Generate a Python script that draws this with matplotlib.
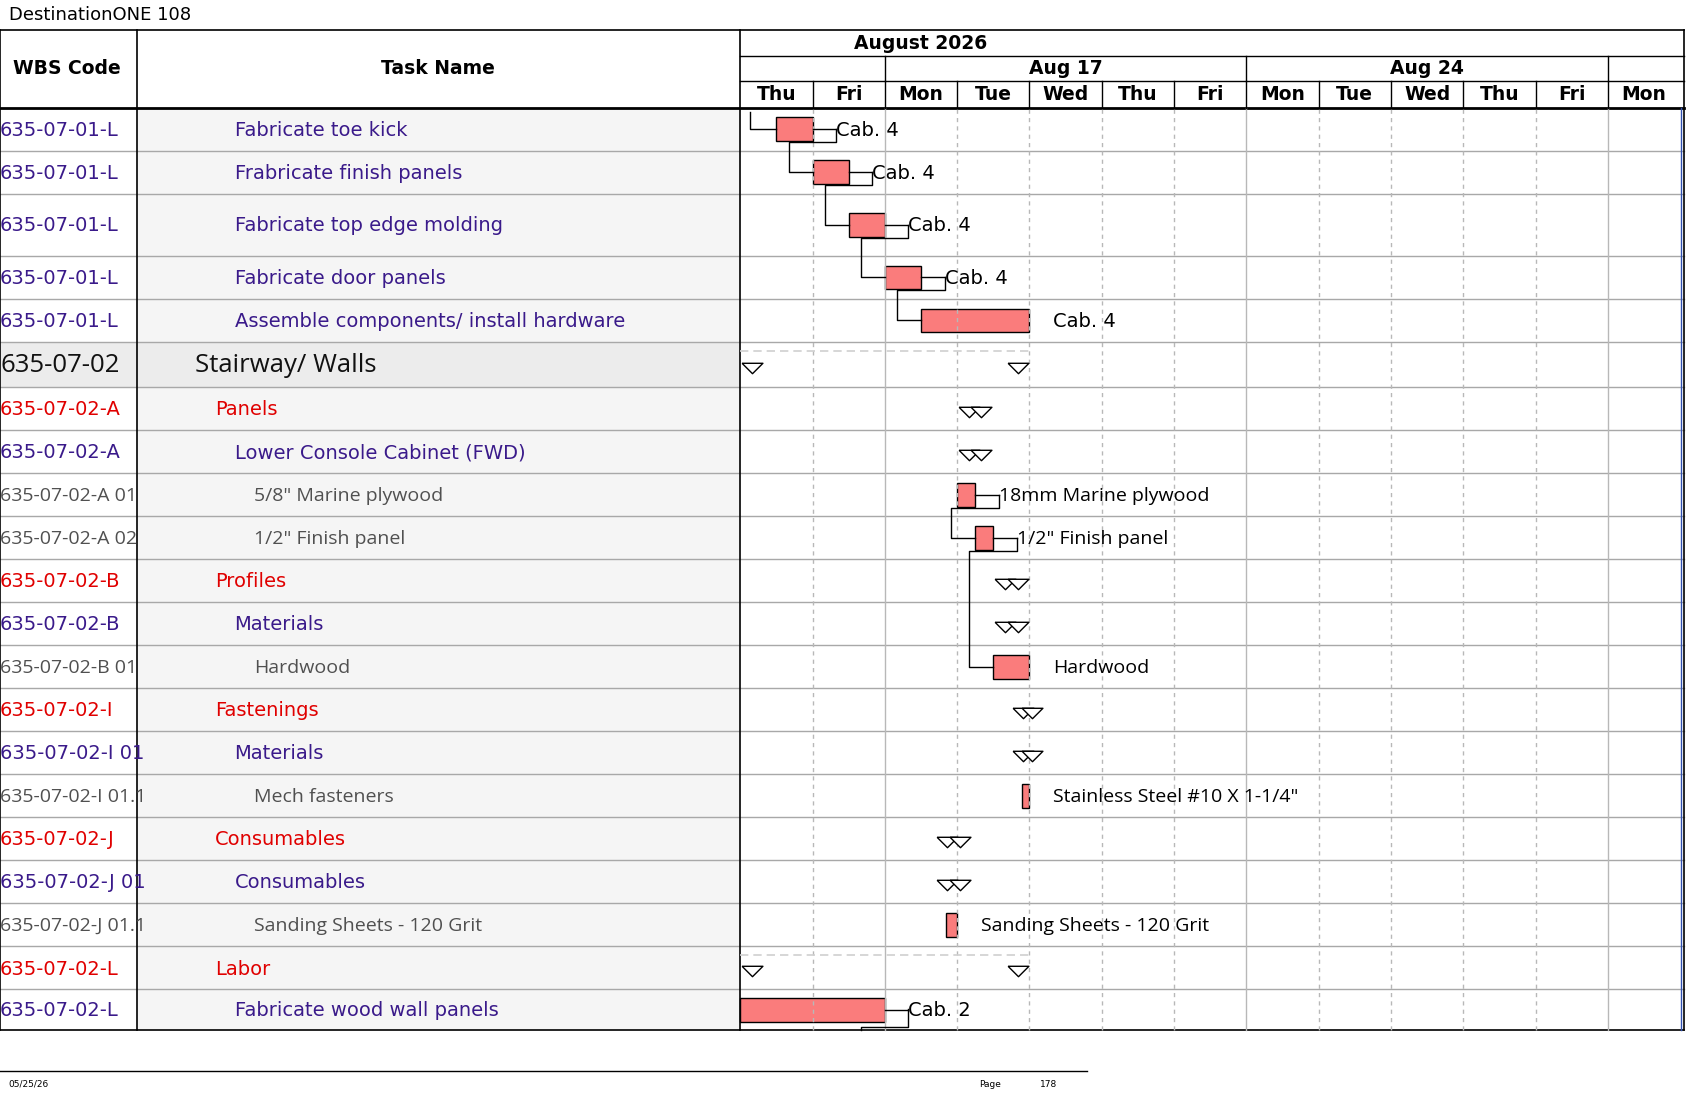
import matplotlib.pyplot as plt
from matplotlib.patches import Rectangle

# Gantt page: DestinationONE 108
#*******************************

W, H = 1568, 1020          # page drawn in display units
X0, DAYW = 688, 67.2       # left of time scale, width of one day column

day_names = ["Thu", "Fri", "Mon", "Tue", "Wed", "Thu", "Fri",
             "Mon", "Tue", "Wed", "Thu", "Fri", "Mon"]
week_labels = ["", "Aug 17", "Aug 24", ""]
week_bounds = [0, 2, 7, 12, 13]

row_edges = [100, 140, 180, 238, 278, 318, 360, 400, 440, 480, 520, 560,
             600, 640, 680, 720, 760, 800, 840, 880, 920, 958]

wbs = ["635-07-01-L", "635-07-01-L", "635-07-01-L", "635-07-01-L", "635-07-01-L",
       "635-07-02", "635-07-02-A", "635-07-02-A", "635-07-02-A 01", "635-07-02-A 02",
       "635-07-02-B", "635-07-02-B", "635-07-02-B 01", "635-07-02-I", "635-07-02-I 01",
       "635-07-02-I 01.1", "635-07-02-J", "635-07-02-J 01", "635-07-02-J 01.1",
       "635-07-02-L", "635-07-02-L"]
names = ["Fabricate toe kick", "Frabricate finish panels", "Fabricate top edge molding",
         "Fabricate door panels", "Assemble components/ install hardware",
         "Stairway/ Walls", "Panels", "Lower Console Cabinet (FWD)",
         "5/8\" Marine plywood", "1/2\" Finish panel", "Profiles", "Materials",
         "Hardwood", "Fastenings", "Materials", "Mech fasteners", "Consumables",
         "Consumables", "Sanding Sheets - 120 Grit", "Labor", "Fabricate wood wall panels"]
# t = task, s = red summary, g = grey item, h = heading
kinds = ["t", "t", "t", "t", "t", "h", "s", "t", "g", "g", "s", "t", "g",
         "s", "t", "g", "s", "t", "g", "s", "t"]

# bars: row -> (start day, end day, label)
bars = {0: (0.5, 1.0, "Cab. 4"), 1: (1.0, 1.5, "Cab. 4"), 2: (1.5, 2.0, "Cab. 4"),
        3: (2.0, 2.5, "Cab. 4"), 4: (2.5, 4.0, "Cab. 4"),
        8: (3.0, 3.25, "18mm Marine plywood"), 9: (3.25, 3.5, "1/2\" Finish panel"),
        12: (3.5, 4.0, "Hardwood"), 15: (3.9, 4.0, "Stainless Steel #10 X 1-1/4\""),
        18: (2.85, 3.0, "Sanding Sheets - 120 Grit"), 20: (0.0, 2.0, "Cab. 2")}
# summaries: row -> (start day, end day)
summaries = {5: (0.0, 4.0), 6: (3.0, 3.5), 7: (3.0, 3.5), 10: (3.5, 4.0),
             11: (3.5, 4.0), 13: (3.75, 4.2), 14: (3.75, 4.2), 16: (2.7, 3.2),
             17: (2.7, 3.2), 19: (0.0, 4.0)}
# links between bars (predecessor row, successor row)
links = [(0, 1), (1, 2), (2, 3), (3, 4), (8, 9), (9, 12)]

fig = plt.figure(figsize=(16.87, 10.97), dpi=100)
ax = fig.add_axes([0, 0, 1, 1])
ax.set_xlim(0, W)
ax.set_ylim(H, 0)
ax.axis("off")

# time-scale axes: x in days
gx = fig.add_axes([0, 0, 1, 1])
gx.set_xlim(-X0 / DAYW, (W - X0) / DAYW)
gx.set_ylim(H, 0)
gx.axis("off")

ax.text(8, 14, "DestinationONE 108", fontsize=13, va="center", family="DejaVu Sans")

# column backgrounds
top, bot = row_edges[0], row_edges[-1]
ax.add_patch(Rectangle((127, top), X0 - 127, bot - top, fc="#f5f5f5", ec="none"))
ax.add_patch(Rectangle((0, row_edges[5]), X0, row_edges[6] - row_edges[5], fc="#ececec", ec="none"))

# horizontal grid
for y in row_edges[1:-1]:
    ax.plot([0, 1565], [y, y], color="#a8a8a8", lw=1)

# day grid
for d in range(1, 13):
    solid = d in week_bounds
    gx.axvline(d, ymin=1 - bot / H, ymax=1 - top / H, color="#b8b8b8",
               lw=1, ls="-" if solid else (0, (3, 3)))

# header
ax.plot([0, 1565], [28, 28], color="k", lw=1.2)
ax.plot([0, 1565], [top, top], color="k", lw=2)
ax.plot([0, 1565], [bot, bot], color="k", lw=1.2)
for x in [0, 127, X0]:
    ax.plot([x, x], [28, bot], color="k", lw=1.2)
ax.plot([1565, 1565], [28, bot], color="k", lw=1.2)
ax.plot([1562, 1562], [top, bot], color="#3050b0", lw=1)
ax.text(62, 64, "WBS Code", fontsize=13.5, weight="bold", ha="center", va="center")
ax.text(407, 64, "Task Name", fontsize=13.5, weight="bold", ha="center", va="center")
ax.plot([X0, 1565], [52, 52], color="k", lw=1)
ax.plot([X0, 1565], [75, 75], color="k", lw=1)
gx.text(2.5, 40, "August 2026", fontsize=13.5, weight="bold", ha="center", va="center")
for i, lab in enumerate(week_labels):
    a, b = week_bounds[i], week_bounds[i + 1]
    if a > 0:
        gx.plot([a, a], [52, 75], color="k", lw=1)
    gx.text((a + b) / 2, 64, lab, fontsize=13.5, weight="bold", ha="center", va="center")
for d, lab in enumerate(day_names):
    if d > 0:
        gx.plot([d, d], [75, top], color="k", lw=1)
    gx.text(d + 0.5, 88, lab, fontsize=13.5, weight="bold", ha="center", va="center")

# rows
styles = {"t": ("#3a1a8a", 218, "DejaVu Sans", 14),
          "s": ("#e00000", 200, "DejaVu Sans", 14),
          "g": ("#505050", 236, "Open Sans", 14),
          "h": ("#111111", 181, "Open Sans", 18.5)}
wclip = Rectangle((0, top), 127, bot - top, transform=ax.transData)
for i, (code, name, kind) in enumerate(zip(wbs, names, kinds)):
    yc = (row_edges[i] + row_edges[i + 1]) / 2 + 1
    col, nx, fam, fs = styles[kind]
    t = ax.text(0, yc, code, fontsize=fs, color=col, family=fam, va="center")
    t.set_clip_path(wclip)
    ax.text(nx, yc, name, fontsize=fs, color=col, family=fam, va="center")

# summary triangles
tri = [(-1, 0.5), (1, 0.5), (0, -0.5), (-1, 0.5)]
off = 11 / DAYW
for r, (s, e) in summaries.items():
    yc = (row_edges[r] + row_edges[r + 1]) / 2 + 3
    gx.plot([s + off, e - off], [yc, yc], ls="none", marker=tri, ms=15,
            mfc="white", mec="k", mew=1)
    if r in (5, 19):
        gx.plot([0, e], [row_edges[r] + 8] * 2, color="#d0d0d0", lw=1.2, ls=(0, (5, 3)))

# bars
lab_x = {}
for r, (s, e, lab) in bars.items():
    yc = (row_edges[r] + row_edges[r + 1]) / 2
    gx.add_patch(Rectangle((s, yc - 11), e - s, 22, fc="#fa7c7c", ec="k", lw=1))
    far = r in (4, 12, 15, 18)
    lx = e + 22 / DAYW
    if not far:
        gx.plot([e, lx], [yc, yc], color="k", lw=1)
    gx.text(lx, yc + 1, lab, fontsize=14,
            family="DejaVu Sans" if "Cab" in lab else "Open Sans", va="center")
    lab_x[r] = lx

# links
gx.plot([0.13, 0.13, 0.5], [104, 120, 120], color="k", lw=1)
for p, q in links:
    sp, ep, _ = bars[p]
    sq, eq, _ = bars[q]
    yp = (row_edges[p] + row_edges[p + 1]) / 2 + 12
    yq = (row_edges[q] + row_edges[q + 1]) / 2
    xb = sq - 0.33
    gx.plot([lab_x[p], lab_x[p], xb, xb, sq], [yp - 12, yp, yp, yq, yq], color="k", lw=1)
gx.plot([lab_x[20], lab_x[20], 1.67, 1.67], [938, 955, 955, bot], color="k", lw=1)

# footer
ax.plot([0, 1010], [996, 996], color="k", lw=1)
ax.text(8, 1008, "05/25/26", fontsize=6.5, va="center")
ax.text(910, 1008, "Page", fontsize=6.5, va="center")
ax.text(967, 1008, "178", fontsize=6.5, va="center")

fig.savefig("out.png", dpi=100)
